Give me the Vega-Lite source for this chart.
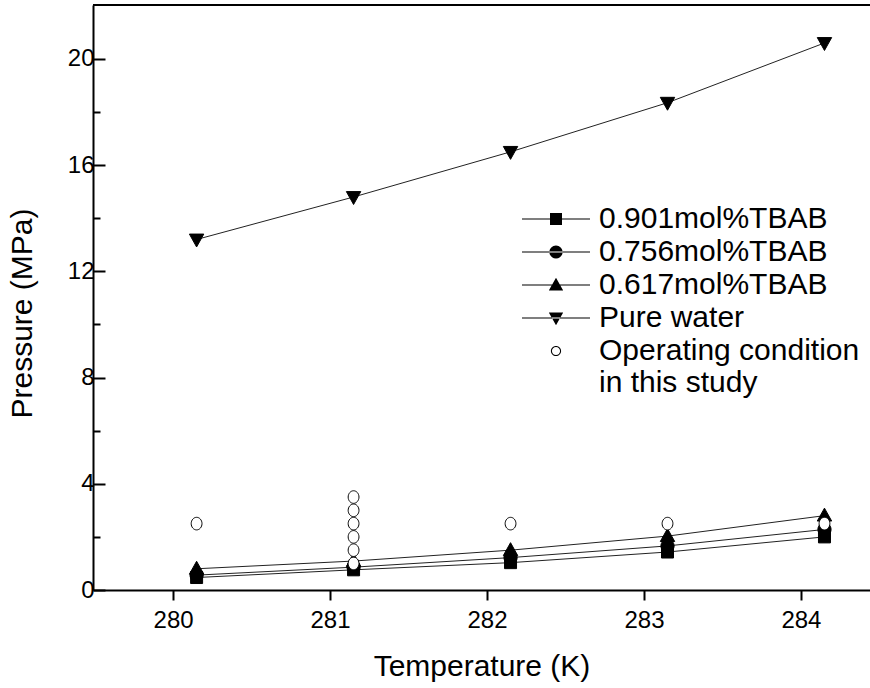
{
  "$schema": "https://vega.github.io/schema/vega-lite/v6.json",
  "width": 777,
  "height": 585,
  "autosize": {"type": "none"},
  "padding": {"left": 93, "top": 5, "right": 0, "bottom": 98},
  "background": "white",
  "config": {
    "view": {"stroke": null},
    "font": "Liberation Sans",
    "axis": {
      "grid": false,
      "domainColor": "black",
      "domainWidth": 2,
      "tickColor": "black",
      "tickWidth": 2,
      "labelColor": "black",
      "labelFontSize": 24,
      "titleColor": "black",
      "titleFontSize": 30,
      "titleFontWeight": "normal"
    }
  },
  "datasets": {
    "pts": [
      {"T": 280.15, "P": 0.47, "series": "0.901mol%TBAB"},
      {"T": 281.15, "P": 0.76, "series": "0.901mol%TBAB"},
      {"T": 282.15, "P": 1.03, "series": "0.901mol%TBAB"},
      {"T": 283.15, "P": 1.43, "series": "0.901mol%TBAB"},
      {"T": 284.15, "P": 2.0, "series": "0.901mol%TBAB"},
      {"T": 280.15, "P": 0.56, "series": "0.756mol%TBAB"},
      {"T": 281.15, "P": 0.86, "series": "0.756mol%TBAB"},
      {"T": 282.15, "P": 1.22, "series": "0.756mol%TBAB"},
      {"T": 283.15, "P": 1.66, "series": "0.756mol%TBAB"},
      {"T": 284.15, "P": 2.28, "series": "0.756mol%TBAB"},
      {"T": 280.15, "P": 0.8, "series": "0.617mol%TBAB"},
      {"T": 281.15, "P": 1.09, "series": "0.617mol%TBAB"},
      {"T": 282.15, "P": 1.5, "series": "0.617mol%TBAB"},
      {"T": 283.15, "P": 2.03, "series": "0.617mol%TBAB"},
      {"T": 284.15, "P": 2.8, "series": "0.617mol%TBAB"},
      {"T": 280.15, "P": 13.2, "series": "Pure water"},
      {"T": 281.15, "P": 14.8, "series": "Pure water"},
      {"T": 282.15, "P": 16.5, "series": "Pure water"},
      {"T": 283.15, "P": 18.35, "series": "Pure water"},
      {"T": 284.15, "P": 20.6, "series": "Pure water"},
      {"T": 280.15, "P": 2.5, "series": "Operating condition"},
      {"T": 281.15, "P": 1.0, "series": "Operating condition"},
      {"T": 281.15, "P": 1.5, "series": "Operating condition"},
      {"T": 281.15, "P": 2.0, "series": "Operating condition"},
      {"T": 281.15, "P": 2.5, "series": "Operating condition"},
      {"T": 281.15, "P": 3.0, "series": "Operating condition"},
      {"T": 281.15, "P": 3.5, "series": "Operating condition"},
      {"T": 282.15, "P": 2.5, "series": "Operating condition"},
      {"T": 283.15, "P": 2.5, "series": "Operating condition"},
      {"T": 284.15, "P": 2.5, "series": "Operating condition"}
    ]
  },
  "data": {"name": "pts"},
  "layer": [
    {
      "mark": {"type": "rule", "color": "black", "strokeWidth": 2},
      "encoding": {
        "y": {"datum": 22.03, "type": "quantitative", "scale": {"domain": [0, 22.03], "nice": false, "zero": true},
          "axis": {
            "values": [0, 2, 4, 6, 8, 10, 12, 14, 16, 18, 20],
            "labelExpr": "datum.value % 4 === 0 ? datum.label : ''",
            "tickSize": {"condition": {"test": "datum.value % 4 === 0", "value": -12}, "value": -7},
            "labelPadding": 11,
            "title": "Pressure (MPa)",
            "titlePadding": 30,
            "titleY": 308
          }
        }
      }
    },
    {
      "transform": [{"filter": "datum.series != 'Operating condition'"}],
      "mark": {"type": "line", "color": "#222222", "strokeWidth": 1},
      "encoding": {
        "x": {"field": "T", "type": "quantitative", "scale": {"domain": [279.49, 284.44], "nice": false, "zero": false},
          "axis": {
            "values": [280, 280.5, 281, 281.5, 282, 282.5, 283, 283.5, 284],
            "format": "d",
            "labelExpr": "datum.value % 1 === 0 ? datum.label : ''",
            "tickSize": {"condition": {"test": "datum.value % 1 === 0", "value": 10}, "value": 6},
            "labelPadding": 8,
            "title": "Temperature (K)",
            "titlePadding": 19
          }
        },
        "y": {"field": "P", "type": "quantitative"},
        "detail": {"field": "series"}
      }
    },
    {
      "mark": {"type": "point", "filled": true, "stroke": "black", "strokeWidth": 1, "size": 144, "opacity": 1},
      "encoding": {
        "x": {"field": "T", "type": "quantitative"},
        "y": {"field": "P", "type": "quantitative"},
        "shape": {"field": "series", "type": "nominal", "legend": null,
          "scale": {
            "domain": ["0.901mol%TBAB", "0.756mol%TBAB", "0.617mol%TBAB", "Pure water", "Operating condition"],
            "range": [
              "M-1,-1H1V1H-1Z",
              "M-1.1,0A1.1,1.1 0 1,0 1.1,0A1.1,1.1 0 1,0 -1.1,0Z",
              "M0,-1.25L1.2,0.9L-1.2,0.9Z",
              "M0,1.25L1.2,-0.9L-1.2,-0.9Z",
              "M-0.9,0A0.9,1.05 0 1,0 0.9,0A0.9,1.05 0 1,0 -0.9,0Z"
            ]
          }
        },
        "fill": {"field": "series", "type": "nominal", "legend": null,
          "scale": {
            "domain": ["0.901mol%TBAB", "0.756mol%TBAB", "0.617mol%TBAB", "Pure water", "Operating condition"],
            "range": ["black", "black", "black", "black", "white"]
          }
        }
      }
    },
    {
      "mark": {"type": "point", "filled": true, "color": "black", "size": 144, "opacity": 0},
      "encoding": {
        "x": {"field": "T", "type": "quantitative"},
        "y": {"field": "P", "type": "quantitative"},
        "shape": {"field": "series", "type": "nominal",
          "scale": {
            "domain": ["0.901mol%TBAB", "0.756mol%TBAB", "0.617mol%TBAB", "Pure water", "Operating condition"],
            "range": [
              "M-5.67,-0.09H5.67V0.09H-5.67ZM-1,-1H1V1H-1Z",
              "M-5.67,-0.09H5.67V0.09H-5.67ZM-1.1,0A1.1,1.1 0 1,0 1.1,0A1.1,1.1 0 1,0 -1.1,0Z",
              "M-5.67,-0.09H5.67V0.09H-5.67ZM0,-1.2L1.2,0.9L-1.2,0.9Z",
              "M-5.67,-0.09H5.67V0.09H-5.67ZM0,1.2L1.2,-0.9L-1.2,-0.9Z",
              "M-0.85,0A0.85,0.85 0 1,0 0.85,0A0.85,0.85 0 1,0 -0.85,0ZM-0.68,0A0.68,0.68 0 1,1 0.68,0A0.68,0.68 0 1,1 -0.68,0Z"
            ]
          },
          "legend": {
            "title": null,
            "orient": "none",
            "legendX": 448,
            "legendY": 199,
            "padding": 0,
            "symbolSize": 144,
            "symbolOpacity": 1,
            "symbolFillColor": "black",
            "symbolStrokeWidth": 0,
            "labelFontSize": 30,
            "labelColor": "black",
            "labelOffset": 28,
            "labelLimit": 400,
            "rowPadding": 3,
            "labelExpr": "datum.label == 'Operating condition' ? ['Operating condition', 'in this study'] : datum.label"
          }
        }
      }
    }
  ],
  "resolve": {
    "scale": {"shape": "independent", "fill": "independent"},
    "legend": {"shape": "independent", "fill": "independent"}
  }
}
